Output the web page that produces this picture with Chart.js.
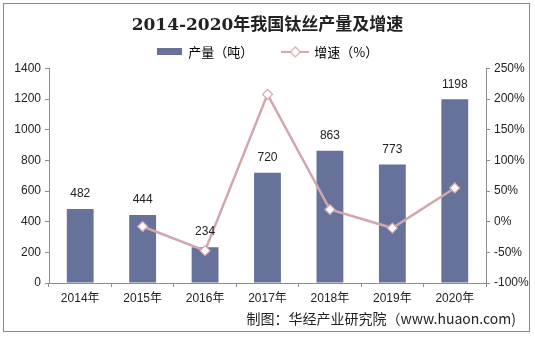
<!DOCTYPE html>
<html>
<head>
<meta charset="utf-8">
<script src="https://cdn.jsdelivr.net/npm/chart.js@4/dist/chart.umd.min.js"></script>
<style>
  html, body { margin: 0; padding: 0; background: #fff; }
  #wrap { position: relative; width: 535px; height: 337px; }
  #frame { position: absolute; left: 3px; top: 3px; width: 527px; height: 329px; border: 1.5px solid #8a8a8a; box-sizing: border-box; pointer-events: none; }
  #source { position: absolute; right: 19px; top: 310px; font: 14px "Noto Sans CJK SC", "Liberation Sans", sans-serif; line-height: 17px; color: #222; white-space: nowrap; }
</style>
</head>
<body>
<div id="wrap">
  <canvas id="chart" width="535" height="337"></canvas>
  <div id="frame"></div>
  <div id="source">制图：华经产业研究院（www.huaon.com)</div>
</div>
<script>
// data
const years = ['2014年', '2015年', '2016年', '2017年', '2018年', '2019年', '2020年'];
const output = [482, 444, 234, 720, 863, 773, 1198];
const growth = [null, -0.079, -0.473, 2.077, 0.199, -0.104, 0.55];

const barColor = '#67729b';
const lineColor = 'rgb(210,166,173)';
const axisColor = '#8c8c8c';
const tickFont = { family: '"Liberation Sans", "Noto Sans CJK SC", sans-serif', size: 12 };

// legend swatches
function barSwatch() {
  const c = document.createElement('canvas');
  c.width = 25; c.height = 7;
  const g = c.getContext('2d');
  g.fillStyle = barColor;
  g.fillRect(0, 0, 25, 7);
  return c;
}
function lineSwatch() {
  const c = document.createElement('canvas');
  c.width = 28; c.height = 12;
  const g = c.getContext('2d');
  g.strokeStyle = lineColor;
  g.lineWidth = 2;
  g.beginPath(); g.moveTo(0, 6); g.lineTo(28, 6); g.stroke();
  g.fillStyle = '#fff';
  g.beginPath(); g.moveTo(14, 1); g.lineTo(19, 6); g.lineTo(14, 11); g.lineTo(9, 6); g.closePath();
  g.fill(); g.lineWidth = 1.2; g.stroke();
  return c;
}
const swatches = [barSwatch(), lineSwatch()];

// value labels above bars
const barLabels = {
  id: 'barLabels',
  afterDatasetsDraw(chart) {
    const ctx = chart.ctx;
    const meta = chart.getDatasetMeta(1);
    ctx.save();
    ctx.font = '12px "Liberation Sans", sans-serif';
    ctx.fillStyle = '#222';
    ctx.textAlign = 'center';
    ctx.textBaseline = 'bottom';
    meta.data.forEach((bar, i) => {
      ctx.fillText(output[i], bar.x, bar.y - 9);
    });
    ctx.restore();
  }
};

const data = {
  labels: years,
  datasets: [{
    type: 'line',
    label: '增速（%）',
    data: growth,
    yAxisID: 'y1',
    borderColor: lineColor,
    borderWidth: 2.5,
    pointStyle: 'rectRot',
    pointRadius: 5,
    pointBackgroundColor: '#fff',
    pointBorderColor: lineColor,
    pointBorderWidth: 1.2,
    tension: 0,
    order: 0
  }, {
    type: 'bar',
    label: '产量（吨）',
    data: output,
    yAxisID: 'y',
    backgroundColor: barColor,
    categoryPercentage: 1,
    barPercentage: 0.43,
    order: 1
  }]
};

const options = {
  responsive: false,
  animation: false,
  layout: { padding: { top: 6, left: 0, right: 0, bottom: 31 } },
  plugins: {
    title: {
      display: true,
      text: '2014-2020年我国钛丝产量及增速',
      color: '#222',
      font: { family: '"DejaVu Serif", "Noto Sans CJK SC", serif', size: 17, weight: 'bold' },
      padding: { top: 9, bottom: 0 }
    },
    legend: {
      display: true,
      labels: {
        usePointStyle: true,
        pointStyleWidth: 25,
        padding: 10,
        color: '#222',
        font: { family: '"Noto Sans CJK SC", sans-serif', size: 13 },
        generateLabels(chart) {
          return [
            { text: '产量（吨）　　', pointStyle: swatches[0], fillStyle: barColor, strokeStyle: barColor, lineWidth: 0, datasetIndex: 1 },
            { text: '增速（%）', pointStyle: swatches[1], fillStyle: '#fff', strokeStyle: lineColor, lineWidth: 0, datasetIndex: 0 }
          ];
        }
      }
    },
    tooltip: { enabled: false }
  },
  scales: {
    x: {
      offset: true,
      grid: { display: true, drawOnChartArea: false, offset: true, color: axisColor, tickColor: axisColor, tickLength: 4 },
      border: { display: true, color: axisColor, width: 1 },
      ticks: { color: '#222', font: tickFont, padding: 4, maxRotation: 0 },
      afterFit(s) { s.height = 23; }
    },
    y: {
      position: 'left',
      min: 0,
      max: 1400,
      ticks: { stepSize: 200, color: '#222', font: tickFont, padding: 4, callback: v => String(v) },
      grid: { display: true, drawOnChartArea: false, color: axisColor, tickColor: axisColor, tickLength: 4 },
      border: { display: true, color: axisColor, width: 1 },
      afterFit(s) { s.width = 49; }
    },
    y1: {
      position: 'right',
      min: -1,
      max: 2.5,
      ticks: {
        stepSize: 0.5,
        color: '#222',
        font: tickFont,
        padding: 4,
        callback: v => Math.round(v * 100) + '%'
      },
      grid: { display: true, drawOnChartArea: false, color: axisColor, tickColor: axisColor, tickLength: 4 },
      border: { display: true, color: axisColor, width: 1 },
      afterFit(s) { s.width = 49; }
    }
  }
};

const chart = new Chart(document.getElementById('chart'), {
  data: data,
  options: options,
  plugins: [barLabels]
});
</script>
</body>
</html>
